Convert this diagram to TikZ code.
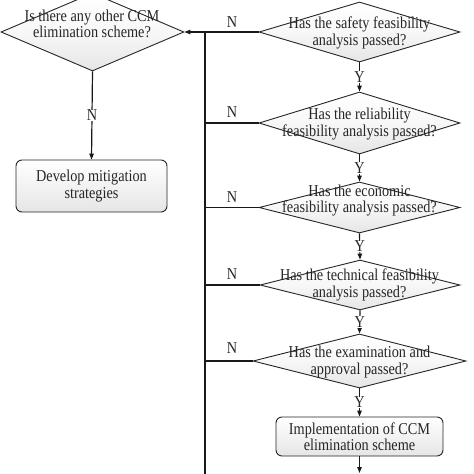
\documentclass[tikz,border=0pt]{standalone}
\usepackage{fontspec}
\setmainfont{Liberation Serif}[FakeStretch=0.86]
\usetikzlibrary{shapes.geometric,arrows.meta}
\begin{document}
\begin{tikzpicture}[x=1pt,y=-1pt,
  dia/.style={diamond, draw=black!85, line width=0.9pt, inner sep=0pt,
    top color=white, bottom color=black!10, middle color=black!3},
  rbox/.style={rectangle, rounded corners=6pt, draw=black!85, line width=0.9pt,
    inner sep=0pt, top color=white, bottom color=black!10},
  txt/.style={align=center, inner sep=0pt, text=black!85,
    font=\fontsize{16.6}{16.5}\selectfont},
  lab/.style={inner sep=1pt, text=black!85, font=\fontsize{16.6}{16.5}\selectfont},
  ylab/.style={lab, fill=white, inner sep=0.5pt},
  conn/.style={line width=1.2pt, draw=black!90},
  arr/.style={conn, -{Triangle[length=6pt,width=4.5pt]}}]
\useasboundingbox (0,0) rectangle (474,474);
\clip (0,0) rectangle (474,474);
\fill[white] (0,0) rectangle (474,474);

% left column
\node[dia, minimum width=183pt, minimum height=78pt] (d0) at (92.5,32) {};
\node[txt] (t0) at (92,24) {Is there any other CCM\\elimination scheme?};
\node[rbox, minimum width=151pt, minimum height=52pt] (b0) at (91.5,186) {};
\node[txt] (tb0) at (b0) {Develop mitigation\\strategies};

% right column
\node[dia, minimum width=201pt, minimum height=60pt] (d1) at (359.5,32) {};
\node[txt] (t1) at (359.5,33) {Has the safety feasibility\\analysis passed?};
\node[dia, minimum width=201pt, minimum height=62pt] (d2) at (359.5,123) {};
\node[txt] (t2) at (359.5,124) {Has the reliability\\feasibility analysis passed?};
\node[dia, minimum width=201pt, minimum height=51pt] (d3) at (359.5,207.5) {};
\node[txt] (t3) at (359.5,200.5) {Has the economic\\feasibility analysis passed?};
\node[dia, minimum width=200pt, minimum height=50pt] (d4) at (360,285) {};
\node[txt] (t4) at (359.5,285) {Has the technical feasibility\\analysis passed?};
\node[dia, minimum width=213pt, minimum height=54pt] (d5) at (359.5,361) {};
\node[txt] (t5) at (359.5,362) {Has the examination and\\approval passed?};
\node[rbox, minimum width=167pt, minimum height=39pt] (b1) at (359.5,436.5) {};
\node[txt] (tb1) at (b1) {Implementation of CCM\\elimination scheme};

% junctions on the return line
\coordinate (j1) at (205,32);
\coordinate (jend) at (205,480);
\coordinate (out) at (359.5,473);

% return line and N branches
\draw[conn] (j1) -- (jend);
\draw[conn] (d1.west) -- (j1);
\draw[arr] (j1) -- (d0.east);
\draw[conn] (d2.west) -- (d2.west -| j1);
\draw[conn] (d3.west) -- (d3.west -| j1);
\draw[conn] (d4.west) -- (d4.west -| j1);
\draw[conn] (d5.west) -- (d5.west -| j1);
\node[lab] (n1) at (232,22) {N};
\node[lab] (n2) at (232,112) {N};
\node[lab] (n3) at (232,197) {N};
\node[lab] (n4) at (232,274.5) {N};
\node[lab] (n5) at (232,348.5) {N};

% Y chain
\draw[arr] (d1.south) -- node[ylab] {Y} (d2.north);
\draw[arr] (d2.south) -- node[ylab] {Y} (d3.north);
\draw[arr] (d3.south) -- node[ylab] {Y} (d4.north);
\draw[arr] (d4.south) -- node[ylab] {Y} (d5.north);
\draw[arr] (d5.south) -- node[ylab] {Y} (b1.north);
\draw[arr] (b1.south) -- (out);

% left N
\draw[arr] (d0.south) -- node[ylab] {N} (b0.north);
\end{tikzpicture}
\end{document}
